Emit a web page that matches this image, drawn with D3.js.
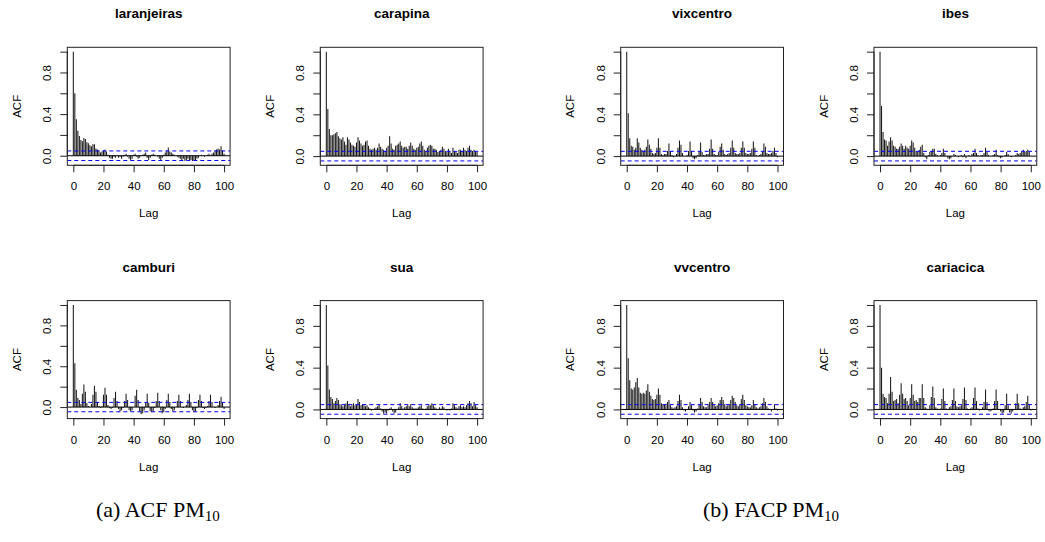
<!DOCTYPE html>
<html>
<head>
<meta charset="utf-8">
<script src="https://cdn.jsdelivr.net/npm/d3@7"></script>
<style>
  html, body { margin: 0; padding: 0; background: #fff; }
  svg { display: block; }
  text { font-family: "Liberation Sans", Arial, Helvetica, sans-serif; fill: #000; }
  .cap { font-family: "Liberation Serif", "Times New Roman", serif; }
</style>
</head>
<body>
<svg id="chart" width="1045" height="542"></svg>
<script>
// ---------------- data ----------------
const lags = d3.range(0, 101);
const xTicks = [0, 20, 40, 60, 80, 100];
const yTicks = [0, 0.2, 0.4, 0.6, 0.8, 1.0];
const yTickLabels = ["0.0", "", "0.4", "", "0.8", ""];
const ciBound = 0.046;
const xLabel = "Lag";
const yLabel = "ACF";

const acfLaranjeiras = [1.00,0.60,0.35,0.24,0.19,0.15,0.14,0.17,0.16,0.13,0.12,0.10,0.09,0.11,0.11,0.07,0.06,0.05,0.03,0.04,
  0.05,0.06,0.04,0.01,-0.02,-0.03,-0.03,-0.01,-0.02,0.00,-0.02,-0.01,-0.03,-0.01,0.01,0.02,-0.01,-0.03,-0.04,-0.03,
  0.01,0.02,-0.01,-0.03,-0.02,0.00,0.01,0.02,0.03,-0.02,-0.04,-0.02,0.01,0.02,0.01,0.00,-0.01,-0.03,-0.04,-0.02,
  0.01,0.03,0.05,0.08,0.04,0.03,0.02,0.01,0.00,-0.01,-0.02,-0.03,-0.04,-0.03,-0.05,-0.04,-0.03,-0.05,-0.04,-0.05,
  -0.04,-0.05,-0.03,-0.02,0.00,0.01,0.00,-0.01,0.00,0.01,0.02,0.00,0.02,0.03,0.05,0.06,0.07,0.06,0.09,0.05,0.02];
const acfCarapina = [1.00,0.45,0.26,0.20,0.20,0.21,0.22,0.23,0.19,0.17,0.16,0.18,0.14,0.11,0.18,0.16,0.13,0.11,0.10,0.09,
  0.13,0.18,0.15,0.12,0.10,0.11,0.14,0.15,0.10,0.07,0.06,0.07,0.08,0.06,0.08,0.12,0.09,0.07,0.06,0.05,
  0.08,0.10,0.19,0.12,0.07,0.06,0.10,0.11,0.12,0.14,0.10,0.08,0.09,0.09,0.07,0.10,0.13,0.10,0.07,0.06,
  0.08,0.09,0.12,0.14,0.10,0.06,0.05,0.08,0.10,0.11,0.10,0.07,0.07,0.06,0.04,0.05,0.06,0.09,0.07,0.05,
  0.04,0.07,0.05,0.03,0.08,0.05,0.04,0.03,0.06,0.06,0.05,0.08,0.06,0.05,0.08,0.10,0.06,0.05,0.06,0.05,0.04];
const acfCamburi = [1.00,0.43,0.17,0.09,0.07,0.03,0.13,0.22,0.15,0.04,0.01,0.00,0.03,0.12,0.21,0.15,0.05,0.01,-0.01,0.01,
  0.12,0.19,0.12,0.02,-0.01,-0.02,-0.01,0.09,0.15,0.06,-0.02,-0.04,-0.03,-0.01,0.06,0.13,0.07,-0.03,-0.04,-0.03,
  0.00,0.11,0.17,0.07,-0.04,-0.07,-0.06,-0.03,0.04,0.13,0.04,-0.04,-0.05,-0.04,-0.01,0.06,0.14,0.06,-0.03,-0.06,
  -0.05,-0.02,0.07,0.13,0.05,-0.02,-0.04,-0.03,0.00,0.06,0.12,0.06,0.00,-0.01,0.00,0.02,0.07,0.13,0.05,-0.03,
  -0.05,-0.04,-0.01,0.07,0.12,0.06,-0.01,-0.02,-0.01,0.01,0.06,0.12,0.05,0.00,-0.01,0.00,0.02,0.06,0.10,0.04,-0.02];
const acfSua = [1.00,0.42,0.19,0.12,0.10,0.06,0.08,0.11,0.09,0.05,0.04,0.03,0.05,0.06,0.08,0.05,0.03,0.04,0.06,0.04,
  0.05,0.10,0.07,0.04,0.05,0.04,0.03,0.04,0.02,0.01,-0.01,0.00,0.01,0.02,0.03,0.05,0.01,-0.02,-0.04,-0.03,
  -0.04,-0.01,0.01,0.02,-0.02,-0.04,-0.03,0.00,0.02,0.06,0.03,0.01,0.02,0.03,0.04,0.03,0.05,0.02,0.01,0.01,
  0.01,0.02,0.03,0.04,0.01,0.00,0.01,0.03,0.04,0.04,0.06,0.04,0.02,0.01,0.00,0.02,0.01,0.03,0.02,0.00,
  -0.01,0.00,-0.01,0.01,0.06,0.04,0.02,0.01,0.03,0.04,0.02,0.03,0.02,0.04,0.06,0.08,0.06,0.03,0.07,0.04,0.02];
const acfVixcentro = [1.00,0.41,0.17,0.10,0.09,0.06,0.08,0.17,0.13,0.08,0.06,0.05,0.06,0.09,0.16,0.11,0.07,0.03,0.02,0.03,
  0.08,0.17,0.08,0.02,0.01,0.02,0.02,0.05,0.12,0.05,0.01,-0.01,0.00,0.02,0.08,0.15,0.11,0.03,0.00,0.00,
  0.01,0.05,0.14,0.05,-0.02,-0.03,-0.02,0.01,0.05,0.13,0.04,0.01,0.01,0.02,0.02,0.07,0.16,0.07,0.02,0.01,
  0.01,0.04,0.09,0.12,0.06,0.02,0.01,0.02,0.03,0.08,0.15,0.08,0.03,0.02,0.02,0.03,0.08,0.14,0.08,0.03,
  0.02,0.02,0.03,0.07,0.14,0.08,0.01,0.00,0.01,0.02,0.04,0.12,0.09,0.03,0.02,0.02,0.03,0.05,0.08,0.03,-0.01];
const acfIbes = [1.00,0.48,0.23,0.16,0.15,0.10,0.14,0.18,0.15,0.10,0.09,0.07,0.07,0.09,0.12,0.10,0.07,0.10,0.08,0.07,
  0.10,0.15,0.13,0.08,0.05,0.04,0.06,0.09,0.11,0.03,-0.01,-0.03,0.01,0.04,0.05,0.07,0.07,0.02,0.01,0.00,
  0.01,0.03,0.07,0.03,0.00,-0.02,-0.03,-0.02,0.00,0.02,0.01,0.00,-0.01,0.00,0.01,-0.01,0.02,-0.02,0.00,0.01,
  0.00,0.02,0.03,0.07,0.03,0.01,0.00,0.01,0.01,0.03,0.08,0.04,0.01,0.00,0.00,0.01,0.02,0.06,0.01,-0.01,
  -0.02,-0.01,0.00,0.01,0.04,0.02,0.00,-0.01,0.00,0.00,0.01,0.03,0.02,0.03,0.04,0.06,0.04,0.05,0.06,0.04,0.00];
const acfVvcentro = [1.00,0.49,0.28,0.20,0.19,0.21,0.26,0.30,0.21,0.16,0.15,0.16,0.15,0.18,0.24,0.17,0.13,0.10,0.09,0.10,
  0.14,0.20,0.14,0.06,0.05,0.05,0.04,0.07,0.09,0.04,0.02,0.01,0.02,0.03,0.08,0.14,0.09,0.02,-0.01,-0.02,
  0.00,0.03,0.07,0.04,-0.01,-0.03,-0.02,0.01,0.05,0.11,0.07,0.03,0.02,0.02,0.04,0.07,0.11,0.07,0.04,0.03,
  0.04,0.06,0.09,0.12,0.09,0.05,0.03,0.04,0.05,0.09,0.13,0.11,0.07,0.04,0.03,0.05,0.10,0.14,0.09,0.04,
  0.03,0.02,0.02,0.04,0.09,0.05,0.02,0.01,0.02,0.03,0.06,0.11,0.07,0.03,0.01,0.00,-0.02,0.00,0.05,0.01,-0.01];
const acfCariacica = [1.00,0.40,0.15,0.12,0.11,0.06,0.15,0.31,0.17,0.08,0.09,0.10,0.06,0.14,0.25,0.15,0.10,0.11,0.08,0.04,
  0.11,0.24,0.14,0.08,0.09,0.07,0.11,0.11,0.24,0.11,0.02,0.01,0.00,0.04,0.12,0.22,0.11,0.02,0.01,0.00,
  0.01,0.10,0.20,0.08,0.01,0.00,0.02,0.03,0.09,0.20,0.08,0.03,0.02,0.03,0.04,0.10,0.21,0.09,0.01,0.00,
  0.01,0.02,0.11,0.21,0.08,0.01,-0.01,0.00,0.02,0.07,0.19,0.07,-0.01,-0.02,-0.01,0.01,0.08,0.19,0.08,0.00,
  -0.02,-0.04,-0.03,0.04,0.15,0.04,-0.03,-0.04,-0.02,0.00,0.06,0.15,0.06,0.01,0.00,0.02,0.03,0.07,0.13,0.05,-0.01];

const panelTitles = ["laranjeiras", "carapina", "vixcentro", "ibes", "camburi", "sua", "vvcentro", "cariacica"];
const panelSeries = [acfLaranjeiras, acfCarapina, acfVixcentro, acfIbes, acfCamburi, acfSua, acfVvcentro, acfCariacica];
const captionMain = ["(a) ACF PM", "(b) FACP PM"];
const captionSub = ["10", "10"];

// ---------------- layout ----------------
const boxLeft = [67.3, 320.3, 620.7, 874.0];
const boxTop = [47.3, 300.6];
const boxW = 162.8, boxH = 118;

const svg = d3.select("#chart");

panelSeries.forEach((vals, i) => {
  const col = i % 4, row = Math.floor(i / 4);
  const L = boxLeft[col], T = boxTop[row];
  const lo = Math.min(d3.min(vals), -ciBound);
  const hi = Math.max(d3.max(vals), ciBound);
  const padY = 0.04 * (hi - lo);
  const x = d3.scaleLinear().domain([-4, 104]).range([L, L + boxW]);
  const y = d3.scaleLinear().domain([lo - padY, hi + padY]).range([T + boxH, T]);
  const g = svg.append("g");

  const clipId = "clip" + i;
  g.append("clipPath").attr("id", clipId)
    .append("rect").attr("x", L).attr("y", T).attr("width", boxW).attr("height", boxH);
  const pg = g.append("g").attr("clip-path", `url(#${clipId})`);

  // bars
  pg.selectAll("line.bar").data(lags).enter().append("line")
    .attr("class", "bar")
    .attr("x1", d => x(d)).attr("x2", d => x(d))
    .attr("y1", y(0)).attr("y2", d => y(vals[d]))
    .attr("stroke", "#1a1a1a").attr("stroke-width", 1.05);

  // zero line
  pg.append("line").attr("x1", L).attr("x2", L + boxW)
    .attr("y1", y(0)).attr("y2", y(0))
    .attr("stroke", "#000").attr("stroke-width", 1);

  // confidence bounds
  [ciBound, -ciBound].forEach(c => {
    pg.append("line").attr("x1", L).attr("x2", L + boxW)
      .attr("y1", y(c)).attr("y2", y(c))
      .attr("stroke", "#0000ff").attr("stroke-width", 1)
      .attr("stroke-dasharray", "4,3");
  });

  // box
  g.append("rect").attr("x", L).attr("y", T).attr("width", boxW).attr("height", boxH)
    .attr("fill", "none").attr("stroke", "#222").attr("stroke-width", 1);

  // x axis
  const xAxis = d3.axisBottom(x).tickValues(xTicks).tickSize(7).tickPadding(10)
    .tickFormat(d3.format("d"));
  const xa = g.append("g").attr("transform", `translate(0,${T + boxH})`).call(xAxis);
  xa.select(".domain").attr("d", `M${x(0)},0H${x(100)}`).attr("stroke", "#222");
  xa.selectAll(".tick line").attr("stroke", "#222");
  xa.selectAll("text").attr("font-size", "11.5px").attr("font-family", "Liberation Sans, Arial, sans-serif");

  // y axis
  const yAxis = d3.axisLeft(y).tickValues(yTicks).tickSize(7).tickPadding(0)
    .tickFormat((d, k) => yTickLabels[k]);
  const ya = g.append("g").attr("transform", `translate(${L},0)`).call(yAxis);
  ya.select(".domain").attr("d", `M0,${y(0)}V${y(1)}`).attr("stroke", "#222");
  ya.selectAll(".tick line").attr("stroke", "#222");
  ya.selectAll(".tick text")
    .attr("font-size", "11.5px").attr("font-family", "Liberation Sans, Arial, sans-serif")
    .attr("x", null).attr("dy", null)
    .attr("text-anchor", "middle")
    .attr("transform", "translate(-16,0) rotate(-90)");

  // title
  g.append("text").attr("x", L + boxW / 2).attr("y", T - 29)
    .attr("text-anchor", "middle").attr("font-weight", "bold").attr("font-size", "13.5px")
    .text(panelTitles[i]);

  // axis labels
  g.append("text").attr("x", L + boxW / 2).attr("y", T + boxH + 52)
    .attr("text-anchor", "middle").attr("font-size", "11.5px").text(xLabel);
  g.append("text")
    .attr("transform", `translate(${L - 46.5},${T + boxH / 2}) rotate(-90)`)
    .attr("text-anchor", "middle").attr("font-size", "11.5px").text(yLabel);
});

// captions
const capX = [96, 703];
captionMain.forEach((c, k) => {
  const t = svg.append("text").attr("class", "cap")
    .attr("x", capX[k]).attr("y", 517).attr("font-size", "22px");
  t.append("tspan").text(c);
  t.append("tspan").attr("font-size", "15px").attr("dy", 4).text(captionSub[k]);
});
</script>
</body>
</html>
